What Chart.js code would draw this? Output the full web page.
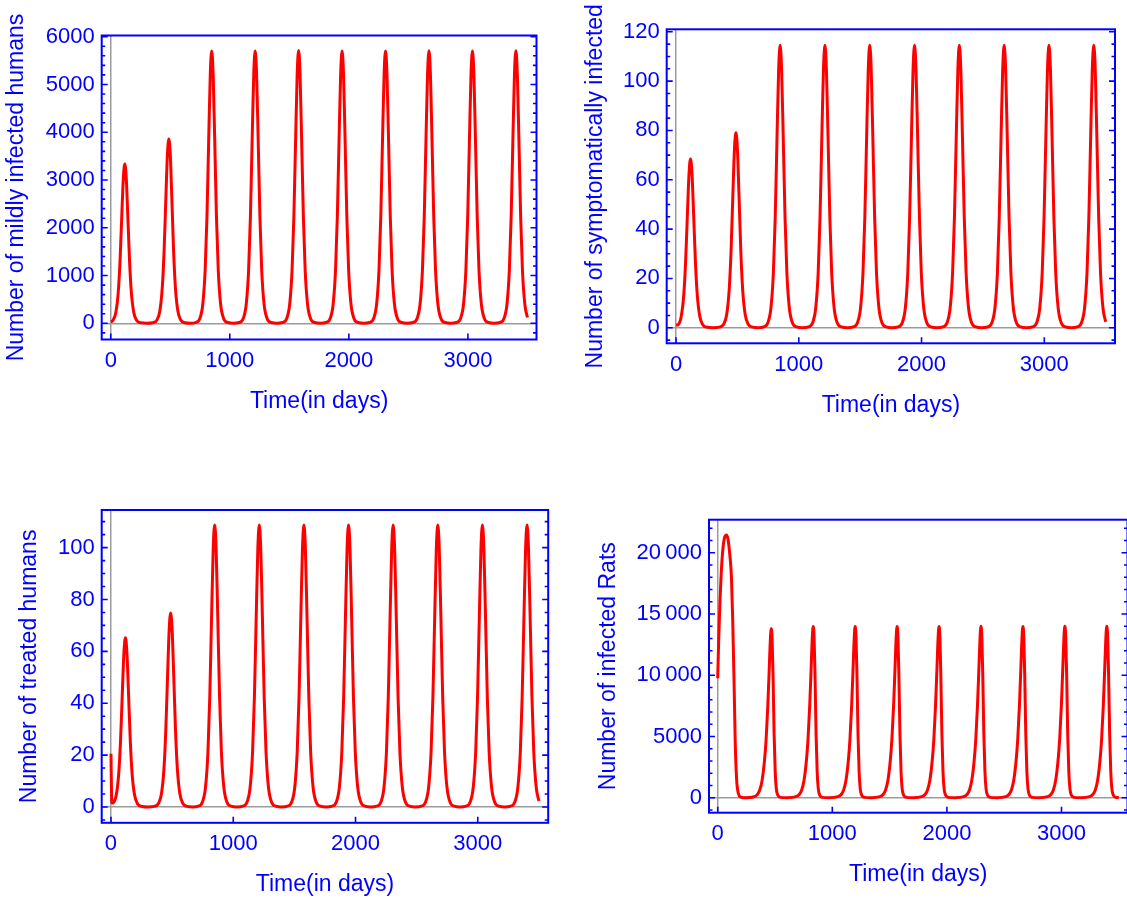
<!DOCTYPE html>
<html>
<head>
<meta charset="utf-8">
<script src="https://cdn.jsdelivr.net/npm/chart.js@4.4.1/dist/chart.umd.min.js"></script>
<style>
  html, body { margin: 0; padding: 0; background: #ffffff; width: 1127px; height: 900px; overflow: hidden; }
  canvas { position: absolute; }
</style>
</head>
<body>
<canvas id="mild"></canvas>
<canvas id="symptomatic"></canvas>
<canvas id="treated"></canvas>
<canvas id="rats"></canvas>
<script>
// ---- time grid for the human compartments (days) ----
const humanDays = [
  0, 4, 10, 18, 43, 63, 78, 93, 106, 118, 130, 143, 158, 173, 193, 218, 253, 303,
  353, 388, 413, 433, 448, 463, 476, 488, 500, 513, 528, 543, 563, 588, 623, 670,
  713, 748, 773, 793, 808, 823, 836, 848, 860, 873, 888, 903, 923, 948, 983, 1030,
  1078, 1113, 1138, 1158, 1173, 1188, 1201, 1213, 1225, 1238, 1253, 1268, 1288, 1313, 1348, 1395,
  1443, 1478, 1503, 1523, 1538, 1553, 1566, 1578, 1590, 1603, 1618, 1633, 1653, 1678, 1713, 1760,
  1808, 1843, 1868, 1888, 1903, 1918, 1931, 1943, 1955, 1968, 1983, 1998, 2018, 2043, 2078, 2125,
  2173, 2208, 2233, 2253, 2268, 2283, 2296, 2308, 2320, 2333, 2348, 2363, 2383, 2408, 2443, 2490,
  2538, 2573, 2598, 2618, 2633, 2648, 2661, 2673, 2685, 2698, 2713, 2728, 2748, 2773, 2808, 2855,
  2903, 2938, 2963, 2983, 2998, 3013, 3026, 3038, 3050, 3063, 3078, 3093, 3113, 3138, 3173, 3220,
  3268, 3303, 3328, 3348, 3363, 3378, 3391, 3403, 3415, 3428, 3443, 3458, 3478, 3500
];

// mildly infected humans
const mildValues = [
  35, 37, 41, 60, 233, 650, 1301, 2268, 3051, 3335, 3051, 2268, 1301, 650, 233, 60, 10, 1,
  12, 69, 270, 753, 1505, 2625, 3532, 3860, 3532, 2625, 1505, 753, 270, 69, 12, 1,
  17, 103, 399, 1112, 2223, 3876, 5216, 5700, 5216, 3876, 2223, 1112, 399, 103, 17, 2,
  17, 103, 399, 1112, 2223, 3876, 5216, 5700, 5216, 3876, 2223, 1112, 399, 103, 17, 2,
  17, 103, 399, 1112, 2223, 3876, 5216, 5710, 5216, 3876, 2223, 1112, 399, 103, 17, 2,
  17, 103, 399, 1112, 2223, 3876, 5216, 5700, 5216, 3876, 2223, 1112, 399, 103, 17, 2,
  17, 103, 399, 1112, 2223, 3876, 5216, 5700, 5216, 3876, 2223, 1112, 399, 103, 17, 2,
  17, 103, 399, 1112, 2223, 3876, 5216, 5705, 5216, 3876, 2223, 1112, 399, 103, 17, 2,
  17, 103, 399, 1112, 2223, 3876, 5216, 5700, 5216, 3876, 2223, 1112, 399, 103, 17, 2,
  17, 103, 399, 1112, 2223, 3876, 5216, 5705, 5216, 3876, 2223, 1112, 399, 120
];

// symptomatically infected humans
const symptomaticValues = [
  1.0, 1.05, 1.1, 1.25, 4.8, 13.3, 26.7, 46.5, 62.6, 68.4, 62.6, 46.5, 26.7, 13.3, 4.8, 1.23, 0.2, 0.02,
  0.24, 1.42, 5.5, 15.4, 30.8, 53.8, 72.4, 79.1, 72.4, 53.8, 30.8, 15.4, 5.5, 1.42, 0.24, 0.02,
  0.34, 2.06, 8.0, 22.3, 44.7, 77.9, 104.8, 114.5, 104.8, 77.9, 44.7, 22.3, 8.0, 2.06, 0.34, 0.03,
  0.34, 2.06, 8.0, 22.3, 44.7, 77.9, 104.8, 114.5, 104.8, 77.9, 44.7, 22.3, 8.0, 2.06, 0.34, 0.03,
  0.34, 2.06, 8.0, 22.3, 44.7, 77.9, 104.8, 114.5, 104.8, 77.9, 44.7, 22.3, 8.0, 2.06, 0.34, 0.03,
  0.34, 2.06, 8.0, 22.3, 44.7, 77.9, 104.8, 114.5, 104.8, 77.9, 44.7, 22.3, 8.0, 2.06, 0.34, 0.03,
  0.34, 2.06, 8.0, 22.3, 44.7, 77.9, 104.8, 114.5, 104.8, 77.9, 44.7, 22.3, 8.0, 2.06, 0.34, 0.03,
  0.34, 2.06, 8.0, 22.3, 44.7, 77.9, 104.8, 114.5, 104.8, 77.9, 44.7, 22.3, 8.0, 2.06, 0.34, 0.03,
  0.34, 2.06, 8.0, 22.3, 44.7, 77.9, 104.8, 114.5, 104.8, 77.9, 44.7, 22.3, 8.0, 2.06, 0.34, 0.03,
  0.34, 2.06, 8.0, 22.3, 44.7, 77.9, 104.8, 114.5, 104.8, 77.9, 44.7, 22.3, 8.0, 2.4
];

// treated humans
const treatedValues = [
  20.5, 6.0, 1.5, 1.6, 4.6, 12.7, 25.4, 44.3, 59.7, 65.2, 59.7, 44.3, 25.4, 12.7, 4.6, 1.17, 0.2, 0.02,
  0.22, 1.35, 5.2, 14.6, 29.2, 50.9, 68.4, 74.8, 68.4, 50.9, 29.2, 14.6, 5.2, 1.35, 0.22, 0.02,
  0.33, 1.96, 7.6, 21.2, 42.4, 73.9, 99.5, 108.7, 99.5, 73.9, 42.4, 21.2, 7.6, 1.96, 0.33, 0.03,
  0.33, 1.96, 7.6, 21.2, 42.4, 73.9, 99.5, 108.7, 99.5, 73.9, 42.4, 21.2, 7.6, 1.96, 0.33, 0.03,
  0.33, 1.96, 7.6, 21.2, 42.4, 73.9, 99.5, 108.7, 99.5, 73.9, 42.4, 21.2, 7.6, 1.96, 0.33, 0.03,
  0.33, 1.96, 7.6, 21.2, 42.4, 73.9, 99.5, 108.7, 99.5, 73.9, 42.4, 21.2, 7.6, 1.96, 0.33, 0.03,
  0.33, 1.96, 7.6, 21.2, 42.4, 73.9, 99.5, 108.7, 99.5, 73.9, 42.4, 21.2, 7.6, 1.96, 0.33, 0.03,
  0.33, 1.96, 7.6, 21.2, 42.4, 73.9, 99.5, 108.7, 99.5, 73.9, 42.4, 21.2, 7.6, 1.96, 0.33, 0.03,
  0.33, 1.96, 7.6, 21.2, 42.4, 73.9, 99.5, 108.7, 99.5, 73.9, 42.4, 21.2, 7.6, 1.96, 0.33, 0.03,
  0.33, 1.96, 7.6, 21.2, 42.4, 73.9, 99.5, 108.7, 99.5, 73.9, 42.4, 21.2, 7.6, 2.3
];

// ---- infected rats (own time grid, days) ----
const ratDays = [
  0, 5, 10, 20, 30, 45, 60, 76, 90, 105, 120, 131, 142, 153, 165, 180, 200, 230,
  317, 347, 367, 387, 407, 422, 437, 449, 459, 467, 475, 483, 492, 502, 512, 527, 547, 607,
  683, 713, 733, 753, 773, 788, 803, 815, 825, 833, 841, 849, 858, 868, 878, 893, 913, 973,
  1049, 1079, 1099, 1119, 1139, 1154, 1169, 1181, 1191, 1199, 1207, 1215, 1224, 1234, 1244, 1259, 1279, 1339,
  1415, 1445, 1465, 1485, 1505, 1520, 1535, 1547, 1557, 1565, 1573, 1581, 1590, 1600, 1610, 1625, 1645, 1705,
  1781, 1811, 1831, 1851, 1871, 1886, 1901, 1913, 1923, 1931, 1939, 1947, 1956, 1966, 1976, 1991, 2011, 2071,
  2147, 2177, 2197, 2217, 2237, 2252, 2267, 2279, 2289, 2297, 2305, 2313, 2322, 2332, 2342, 2357, 2377, 2437,
  2513, 2543, 2563, 2583, 2603, 2618, 2633, 2645, 2655, 2663, 2671, 2679, 2688, 2698, 2708, 2723, 2743, 2803,
  2879, 2909, 2929, 2949, 2969, 2984, 2999, 3011, 3021, 3029, 3037, 3045, 3054, 3064, 3074, 3089, 3109, 3169,
  3245, 3275, 3295, 3315, 3335, 3350, 3365, 3377, 3387, 3395, 3403, 3411, 3420, 3430, 3440, 3455, 3475, 3500
];
const ratValues = [
  9750, 11600, 13300, 16100, 18200, 20300, 21250, 21450, 21100, 19900, 18000, 14500, 9800, 4500, 1500, 350, 60, 5,
  83, 276, 621, 1380, 2898, 4692, 7452, 10350, 12834, 13800, 12972, 9936, 5244, 2070, 690, 166, 28, 4,
  84, 280, 629, 1398, 2936, 4753, 7549, 10485, 13001, 13980, 13141, 10066, 5312, 2097, 699, 168, 28, 4,
  84, 280, 629, 1398, 2936, 4753, 7549, 10485, 13001, 13980, 13141, 10066, 5312, 2097, 699, 168, 28, 4,
  84, 280, 629, 1398, 2936, 4753, 7549, 10485, 13001, 13980, 13141, 10066, 5312, 2097, 699, 168, 28, 4,
  84, 280, 629, 1398, 2936, 4753, 7549, 10485, 13001, 13980, 13141, 10066, 5312, 2097, 699, 168, 28, 4,
  84, 280, 629, 1398, 2936, 4753, 7549, 10485, 13001, 13990, 13141, 10066, 5312, 2097, 699, 168, 28, 4,
  84, 280, 629, 1398, 2936, 4753, 7549, 10485, 13001, 13980, 13141, 10066, 5312, 2097, 699, 168, 28, 4,
  84, 280, 629, 1398, 2936, 4753, 7549, 10485, 13001, 13990, 13141, 10066, 5312, 2097, 699, 168, 28, 4,
  84, 280, 629, 1398, 2936, 4753, 7549, 10485, 13001, 13990, 13141, 10066, 5312, 2097, 699, 168, 28, 10
];

// ---- tick values and labels ----
const timeTicks = [0, 1000, 2000, 3000];
const timeTickLabels = ['0', '1000', '2000', '3000'];
const mildTicks = [0, 1000, 2000, 3000, 4000, 5000, 6000];
const mildTickLabels = ['0', '1000', '2000', '3000', '4000', '5000', '6000'];
const symptomaticTicks = [0, 20, 40, 60, 80, 100, 120];
const symptomaticTickLabels = ['0', '20', '40', '60', '80', '100', '120'];
const treatedTicks = [0, 20, 40, 60, 80, 100];
const treatedTickLabels = ['0', '20', '40', '60', '80', '100'];
const ratTicks = [0, 5000, 10000, 15000, 20000];
const ratTickLabels = ['0', '5000', '10\u2009000', '15\u2009000', '20\u2009000'];

const timeTitle = 'Time(in days)';

// ---- styling ----
const BLUE = 'rgb(0,0,255)';
const RED = 'rgb(255,0,0)';
const AXIS_GRAY = 'rgb(155,155,155)';
const FONT = '"Liberation Sans", Arial, Helvetica, sans-serif';
Chart.defaults.font.family = FONT;

// Mathematica-style frame: blue box with inward ticks (majors + minors) on left/right, majors on bottom
const framePlugin = {
  id: 'frame',
  afterDatasetsDraw(chart, args, opts) {
    const { ctx, chartArea: a, scales } = chart;
    const xs = scales.x, ys = scales.y;
    ctx.save();
    ctx.strokeStyle = BLUE;
    ctx.lineCap = 'butt';
    ctx.lineWidth = 1.6;
    const majLen = 6, minLen = 3.5;
    ctx.beginPath();
    for (const v of opts.xMajor) {
      const px = xs.getPixelForValue(v);
      ctx.moveTo(px, a.bottom); ctx.lineTo(px, a.bottom - majLen);
    }
    const isMajor = v => opts.yMajor.some(m => Math.abs(m - v) < opts.yMinorStep * 1e-3);
    const start = Math.ceil(ys.min / opts.yMinorStep) * opts.yMinorStep;
    for (let v = start; v <= ys.max + 1e-9; v += opts.yMinorStep) {
      const py = ys.getPixelForValue(v);
      const len = isMajor(v) ? majLen : minLen;
      ctx.moveTo(a.left, py); ctx.lineTo(a.left + len, py);
      ctx.moveTo(a.right, py); ctx.lineTo(a.right - len, py);
    }
    ctx.stroke();
    ctx.lineWidth = 2;
    ctx.strokeRect(a.left, a.top, a.right - a.left, a.bottom - a.top);
    ctx.restore();
  }
};

function makePanel(id, box, days, values, yCfg) {
  const cv = document.getElementById(id);
  cv.style.left = box.left + 'px';
  cv.style.top = box.top + 'px';
  cv.width = box.width;
  cv.height = box.height;
  const points = days.map((d, i) => ({ x: d, y: values[i] }));
  const zeroLine = c => (c.tick && c.tick.value === 0) ? AXIS_GRAY : 'rgba(0,0,0,0)';
  new Chart(cv, {
    type: 'line',
    data: {
      datasets: [{
        data: points,
        borderColor: RED,
        borderWidth: 3,
        pointRadius: 0,
        fill: false,
        cubicInterpolationMode: 'monotone'
      }]
    },
    options: {
      responsive: false,
      animation: false,
      devicePixelRatio: 1,
      events: [],
      layout: { padding: box.padding },
      plugins: {
        legend: { display: false },
        tooltip: { enabled: false },
        frame: { xMajor: timeTicks, yMajor: yCfg.ticks, yMinorStep: yCfg.minorStep }
      },
      scales: {
        x: {
          type: 'linear',
          min: -76, max: 3576,
          afterBuildTicks: s => { s.ticks = timeTicks.map(v => ({ value: v })); },
          afterFit: s => { s.height = box.xAxisHeight; },
          ticks: {
            autoSkip: false, maxRotation: 0, padding: 8, color: BLUE,
            font: { size: 22, family: FONT },
            callback: (v, i) => timeTickLabels[i]
          },
          grid: { color: zeroLine, lineWidth: 1.5, drawTicks: false },
          border: { display: false },
          title: {
            display: true, text: timeTitle, color: BLUE,
            font: { size: 23, family: FONT }, padding: { top: 0, bottom: 0 }
          }
        },
        y: {
          type: 'linear',
          min: yCfg.min, max: yCfg.max,
          afterBuildTicks: s => { s.ticks = yCfg.ticks.map(v => ({ value: v })); },
          afterFit: s => { s.width = box.yAxisWidth; },
          ticks: {
            autoSkip: false, padding: 7, color: BLUE,
            font: { size: 22, family: FONT },
            callback: (v, i) => yCfg.labels[i]
          },
          grid: { color: zeroLine, lineWidth: 1.5, drawTicks: false },
          border: { display: false },
          title: {
            display: true, text: yCfg.title, color: BLUE,
            font: { size: 23, family: FONT }, padding: { top: 0, bottom: 0 }
          }
        }
      }
    },
    plugins: [framePlugin]
  });
}

makePanel('mild',
  { left: 3, top: 0, width: 552, height: 416, yAxisWidth: 98.7, xAxisHeight: 76,
    padding: { left: 0, top: 35.5, right: 18.5, bottom: 0.5 } },
  humanDays, mildValues,
  { min: -339, max: 6025, ticks: mildTicks, labels: mildTickLabels, minorStep: 200,
    title: 'Number of mildly infected humans' });

makePanel('symptomatic',
  { left: 582, top: 0, width: 545, height: 420, yAxisWidth: 84.7, xAxisHeight: 76,
    padding: { left: 0, top: 29.3, right: 12, bottom: 0.7 } },
  humanDays, symptomaticValues,
  { min: -6.3, max: 121, ticks: symptomaticTicks, labels: symptomaticTickLabels, minorStep: 5,
    title: 'Number of symptomatically infected' });

makePanel('treated',
  { left: 16, top: 470, width: 544, height: 429, yAxisWidth: 85.7, xAxisHeight: 76,
    padding: { left: 0, top: 40, right: 11.8, bottom: 0.2 } },
  humanDays, treatedValues,
  { min: -6.1, max: 114.5, ticks: treatedTicks, labels: treatedTickLabels, minorStep: 5,
    title: 'Number of treated humans' });

makePanel('rats',
  { left: 595, top: 470, width: 534, height: 419, yAxisWidth: 114, xAxisHeight: 76,
    padding: { left: 0, top: 49.7, right: 1.5, bottom: 0.3 } },
  ratDays, ratValues,
  { min: -1224, max: 22700, ticks: ratTicks, labels: ratTickLabels, minorStep: 1000,
    title: 'Number of infected Rats' });
</script>
</body>
</html>
